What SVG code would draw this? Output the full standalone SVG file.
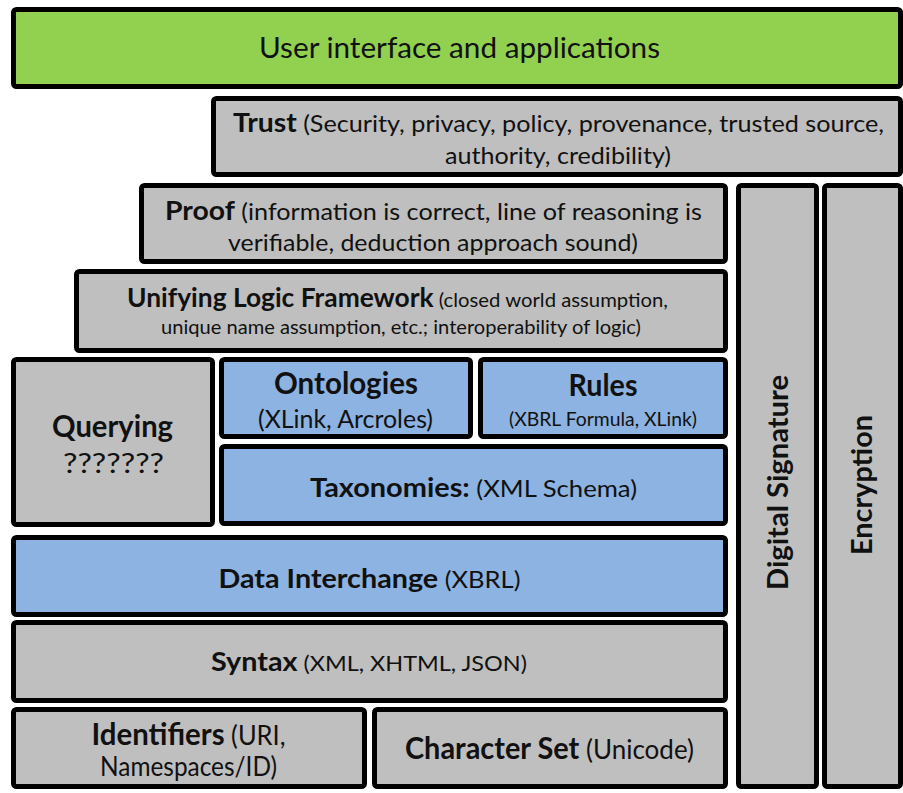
<svg xmlns="http://www.w3.org/2000/svg" width="903" height="793" viewBox="0 0 903 793">
  <style>
    .box { stroke: #000; stroke-width: 5; }
    .green { fill: #92D050; }
    .gray { fill: #BFBFBF; }
    .blue { fill: #8DB3E2; }
    text { font-family: Lato, "Open Sans", "Liberation Sans", sans-serif; fill: #111; text-anchor: middle; }
    .b { font-weight: bold; }
  </style>
  <rect width="903" height="793" fill="#fff"/>

  <!-- top application layer -->
  <g id="ui">
    <rect class="box green" x="13.5" y="9.5" width="887" height="77" rx="3"/>
    <text x="459.5" y="58" font-size="29" textLength="401" lengthAdjust="spacingAndGlyphs">User interface and applications</text>
  </g>

  <g id="trust">
    <rect class="box gray" x="213.5" y="98.5" width="687" height="76" rx="3"/>
    <text x="558.5" y="132" font-size="24" textLength="651" lengthAdjust="spacingAndGlyphs"><tspan class="b" font-size="27">Trust</tspan> (Security, privacy, policy, provenance, trusted source,</text>
    <text x="558" y="164" font-size="24" textLength="226" lengthAdjust="spacingAndGlyphs">authority, credibility)</text>
  </g>

  <g id="proof">
    <rect class="box gray" x="141.5" y="185.5" width="584" height="76" rx="3"/>
    <text x="433.5" y="220" font-size="24" textLength="537" lengthAdjust="spacingAndGlyphs"><tspan class="b" font-size="27">Proof</tspan> (information is correct, line of reasoning is</text>
    <text x="433" y="251" font-size="24" textLength="410" lengthAdjust="spacingAndGlyphs">verifiable, deduction approach sound)</text>
  </g>

  <!-- vertical side columns -->
  <g id="digital-signature">
    <rect class="box gray" x="738.5" y="185.5" width="78" height="601" rx="3"/>
    <text class="b" transform="translate(788 482.5) rotate(-90)" x="0" y="0" font-size="28" textLength="215" lengthAdjust="spacingAndGlyphs">Digital Signature</text>
  </g>

  <g id="encryption">
    <rect class="box gray" x="824.5" y="185.5" width="76" height="601" rx="3"/>
    <text class="b" transform="translate(872 485) rotate(-90)" x="0" y="0" font-size="28" textLength="140" lengthAdjust="spacingAndGlyphs">Encryption</text>
  </g>

  <g id="unifying-logic">
    <rect class="box gray" x="76.5" y="271.5" width="649" height="79" rx="3"/>
    <text x="397.5" y="307" font-size="20" textLength="541" lengthAdjust="spacingAndGlyphs"><tspan class="b" font-size="26">Unifying Logic Framework</tspan> (closed world assumption,</text>
    <text x="401" y="334" font-size="20" textLength="480" lengthAdjust="spacingAndGlyphs">unique name assumption, etc.; interoperability of logic)</text>
  </g>

  <g id="querying">
    <rect class="box gray" x="13.5" y="359.5" width="199" height="165" rx="3"/>
    <text class="b" x="112.5" y="437" font-size="31" textLength="121" lengthAdjust="spacingAndGlyphs">Querying</text>
    <text x="113.5" y="473" font-size="27" textLength="101" lengthAdjust="spacingAndGlyphs">???????</text>
  </g>

  <g id="ontologies">
    <rect class="box blue" x="221.5" y="359.5" width="249" height="77" rx="3"/>
    <text class="b" x="346" y="394" font-size="30" textLength="144" lengthAdjust="spacingAndGlyphs">Ontologies</text>
    <text x="345.5" y="428" font-size="25" textLength="175" lengthAdjust="spacingAndGlyphs">(XLink, Arcroles)</text>
  </g>

  <g id="rules">
    <rect class="box blue" x="480.5" y="359.5" width="245" height="77" rx="3"/>
    <text class="b" x="603" y="396" font-size="30" textLength="69" lengthAdjust="spacingAndGlyphs">Rules</text>
    <text x="603" y="426" font-size="19" textLength="188" lengthAdjust="spacingAndGlyphs">(XBRL Formula, XLink)</text>
  </g>

  <g id="taxonomies">
    <rect class="box blue" x="221.5" y="446.5" width="504" height="77" rx="3"/>
    <text x="473.5" y="497" font-size="24" textLength="327" lengthAdjust="spacingAndGlyphs"><tspan class="b" font-size="27">Taxonomies:</tspan> (XML Schema)</text>
  </g>

  <g id="data-interchange">
    <rect class="box blue" x="13.5" y="537.5" width="712" height="77" rx="3"/>
    <text x="369.5" y="588" font-size="24" textLength="302" lengthAdjust="spacingAndGlyphs"><tspan class="b" font-size="27">Data Interchange</tspan> (XBRL)</text>
  </g>

  <g id="syntax">
    <rect class="box gray" x="13.5" y="622.5" width="712" height="78" rx="3"/>
    <text x="369" y="671" font-size="22" textLength="316" lengthAdjust="spacingAndGlyphs"><tspan class="b" font-size="27">Syntax</tspan> (XML, XHTML, JSON)</text>
  </g>

  <g id="identifiers">
    <rect class="box gray" x="13.5" y="709.5" width="351" height="77" rx="3"/>
    <text x="188.5" y="745" font-size="26" textLength="194" lengthAdjust="spacingAndGlyphs"><tspan class="b" font-size="30">Identifiers</tspan> (URI,</text>
    <text x="188.5" y="776" font-size="26" textLength="177" lengthAdjust="spacingAndGlyphs">Namespaces/ID)</text>
  </g>

  <g id="character-set">
    <rect class="box gray" x="374.5" y="709.5" width="351" height="77" rx="3"/>
    <text x="549.5" y="759" font-size="27" textLength="289" lengthAdjust="spacingAndGlyphs"><tspan class="b" font-size="30">Character Set</tspan> (Unicode)</text>
  </g>
</svg>
